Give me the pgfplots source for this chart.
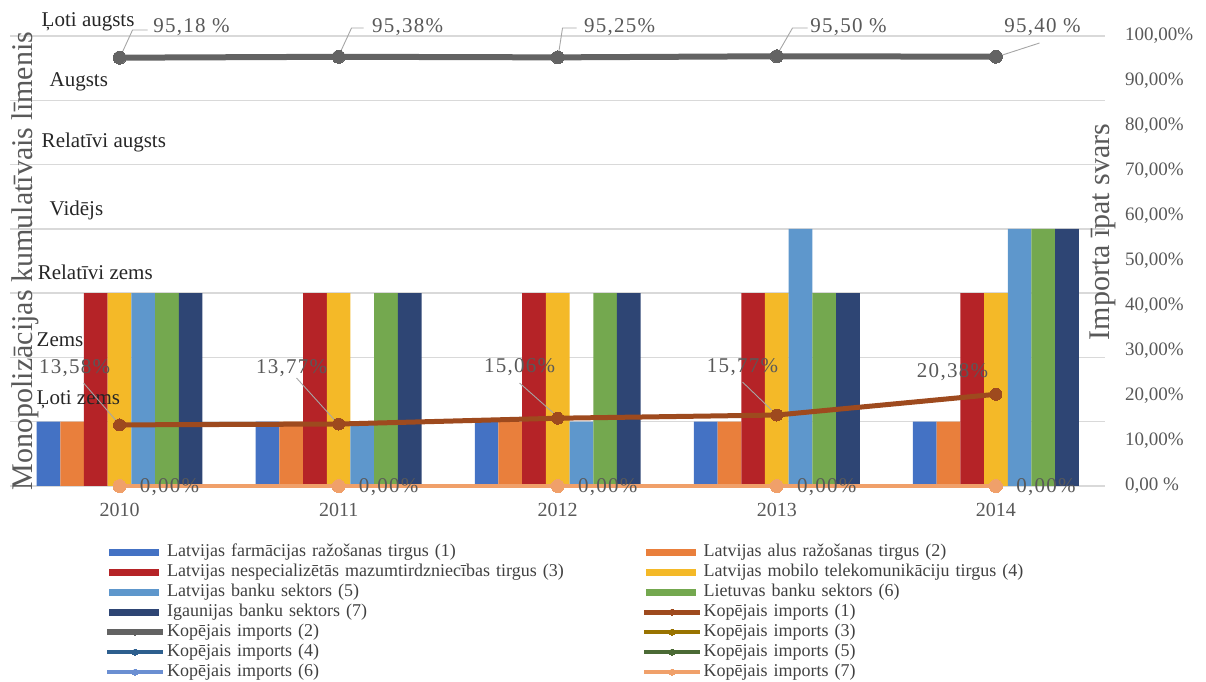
\documentclass[border=0pt]{standalone}
\usepackage{pgfplots}
\pgfplotsset{compat=1.18}
\usepackage{fontspec}
\setmainfont{Liberation Serif}
\newfontfamily\lblfont[LetterSpace=6]{Liberation Serif}
\definecolor{c1}{HTML}{4472C4}
\definecolor{c2}{HTML}{E97F3C}
\definecolor{c3}{HTML}{B52327}
\definecolor{c4}{HTML}{F4B928}
\definecolor{c5}{HTML}{5E97CC}
\definecolor{c6}{HTML}{74A84F}
\definecolor{c7}{HTML}{2E4574}
\definecolor{l1}{HTML}{9E4A1E}
\definecolor{l2}{HTML}{636363}
\definecolor{l3}{HTML}{997300}
\definecolor{l4}{HTML}{2D5F8E}
\definecolor{l5}{HTML}{4B6A35}
\definecolor{l6}{HTML}{6B8FD2}
\definecolor{l7}{HTML}{F0A06A}
\definecolor{gridc}{HTML}{D9D9D9}
\definecolor{tickc}{HTML}{595959}
\definecolor{legc}{HTML}{404040}
\definecolor{darkt}{HTML}{262626}
\definecolor{leadc}{HTML}{A6A6A6}
\pgfplotsset{
  lineleg/.style={legend image code/.code={\path[draw=none,fill=none] (0bp,0bp) -- (54.5bp,0bp); \draw[mark repeat=2,mark phase=2,##1,mark size=3bp] plot coordinates {(0bp,0bp) (28bp,0bp) (56bp,0bp)};}},
  barleg/.style={legend image code/.code={\path[draw=none,fill=none] (0bp,0bp) -- (54.5bp,0bp); \fill[#1, draw=none] (2bp,-3.5bp) rectangle (52bp,3.5bp);}},
}
\begin{document}
\begin{tikzpicture}
\useasboundingbox (0,0) rectangle (1206bp,682bp);
% primary axis: bars
\begin{axis}[
  at={(10bp,196bp)}, anchor=south west, scale only axis,
  width=1095.5bp, height=450bp,
  xmin=-0.5, xmax=4.5, ymin=0, ymax=7,
  ybar=0pt, bar width=23.7bp,
  xtick={0,1,2,3,4}, xticklabels={2010,2011,2012,2013,2014},
  major tick length=0pt,
  ytick={0,1,...,7}, yticklabel=\empty,
  ymajorgrids, grid style={draw=gridc, line width=1.3bp},
  axis line style={draw=none},
  xticklabel style={font=\fontsize{20bp}{24bp}\selectfont, text=tickc, inner sep=0pt, yshift=-17bp},
  ylabel={Monopolizācijas kumulatīvais līmenis},
  ylabel style={at={(axis description cs:0.0137,0.5)}, anchor=center, font=\fontsize{30bp}{36bp}\selectfont, text=tickc},
  clip=false,
]
\addplot[fill=c1, draw=none] coordinates {(0,1) (1,1) (2,1) (3,1) (4,1)};
\addplot[fill=c2, draw=none] coordinates {(0,1) (1,1) (2,1) (3,1) (4,1)};
\addplot[fill=c3, draw=none] coordinates {(0,3) (1,3) (2,3) (3,3) (4,3)};
\addplot[fill=c4, draw=none] coordinates {(0,3) (1,3) (2,3) (3,3) (4,3)};
\addplot[fill=c5, draw=none] coordinates {(0,3) (1,1) (2,1) (3,4) (4,4)};
\addplot[fill=c6, draw=none] coordinates {(0,3) (1,3) (2,3) (3,3) (4,4)};
\addplot[fill=c7, draw=none] coordinates {(0,3) (1,3) (2,3) (3,3) (4,4)};
\begin{scope}[every node/.style={anchor=west, inner sep=0pt, font=\fontsize{21bp}{25bp}\selectfont, text=darkt}]
\node at (axis cs:-0.356,7.22) {Ļoti augsts};
\node at (axis cs:-0.320,6.28) {Augsts};
\node at (axis cs:-0.356,5.35) {Relatīvi augsts};
\node at (axis cs:-0.320,4.29) {Vidējs};
\node at (axis cs:-0.374,3.33) {Relatīvi zems};
\node at (axis cs:-0.379,2.27) {Zems};
\node at (axis cs:-0.379,1.34) {Ļoti zems};
\end{scope}
\end{axis}
% secondary axis: lines
\begin{axis}[
  at={(10bp,196bp)}, anchor=south west, scale only axis,
  width=1095.5bp, height=450bp,
  xmin=-0.5, xmax=4.5, ymin=0, ymax=100,
  axis x line=none, axis y line*=right, y axis line style={draw=none},
  major tick length=0pt,
  ytick={0,10,...,100},
  yticklabels={{0,00 \%},{10,00\%},{20,00\%},{30,00\%},{40,00\%},{50,00\%},{60,00\%},{70,00\%},{80,00\%},{90,00\%},{100,00\%}},
  yticklabel style={anchor=west, inner sep=0pt, xshift=19.5bp, font=\fontsize{19bp}{23bp}\selectfont, text=tickc},
  ylabel={Importa īpat svars},
  ylabel style={at={(axis description cs:0.9977,0.5645)}, anchor=center, font=\fontsize{30bp}{36bp}\selectfont, text=tickc},
  clip=false,
  legend columns=2,
  legend cell align=left,
  legend style={at={(axis description cs:0.0858,-0.1244)}, anchor=north west, draw=none, fill=none,
    column sep=0pt, row sep=0pt, inner sep=0pt,
    font=\fontsize{18bp}{20bp}\selectfont, text=legc,
    nodes={text width=473.5bp, inner sep=1bp, text height=13.5bp, text depth=4.5bp, align=left}},
]
\addlegendimage{barleg=c1}
\addlegendentry{Latvijas farmācijas ražošanas tirgus (1)}
\addlegendimage{barleg=c2}
\addlegendentry{Latvijas alus ražošanas tirgus (2)}
\addlegendimage{barleg=c3}
\addlegendentry{Latvijas nespecializētās mazumtirdzniecības tirgus (3)}
\addlegendimage{barleg=c4}
\addlegendentry{Latvijas mobilo telekomunikāciju tirgus (4)}
\addlegendimage{barleg=c5}
\addlegendentry{Latvijas banku sektors (5)}
\addlegendimage{barleg=c6}
\addlegendentry{Lietuvas banku sektors (6)}
\addlegendimage{barleg=c7}
\addlegendentry{Igaunijas banku sektors (7)}
\addplot[lineleg, l1, line width=5bp, mark=*, mark size=6bp, mark options={solid, fill=l1, line width=0pt}] coordinates {(0,13.58) (1,13.77) (2,15.06) (3,15.77) (4,20.38)};
\addlegendentry{Kopējais imports (1)}
\addplot[lineleg, l2, line width=6bp, mark=*, mark size=6.5bp, mark options={solid, fill=l2, line width=0pt}] coordinates {(0,95.18) (1,95.38) (2,95.25) (3,95.50) (4,95.40)};
\addlegendentry{Kopējais imports (2)}
\addplot[lineleg, l3, line width=4bp, mark=*, mark size=6bp, mark options={solid, fill=l3, line width=0pt}] coordinates {(0,0) (1,0) (2,0) (3,0) (4,0)};
\addlegendentry{Kopējais imports (3)}
\addplot[lineleg, l4, line width=4bp, mark=*, mark size=6bp, mark options={solid, fill=l4, line width=0pt}] coordinates {(0,0) (1,0) (2,0) (3,0) (4,0)};
\addlegendentry{Kopējais imports (4)}
\addplot[lineleg, l5, line width=4bp, mark=*, mark size=6bp, mark options={solid, fill=l5, line width=0pt}] coordinates {(0,0) (1,0) (2,0) (3,0) (4,0)};
\addlegendentry{Kopējais imports (5)}
\addplot[lineleg, l6, line width=4bp, mark=*, mark size=6bp, mark options={solid, fill=l6, line width=0pt}] coordinates {(0,0) (1,0) (2,0) (3,0) (4,0)};
\addlegendentry{Kopējais imports (6)}
\addplot[lineleg, l7, line width=4bp, mark=*, mark size=6.5bp, mark options={solid, fill=l7, line width=0pt}] coordinates {(0,0) (1,0) (2,0) (3,0) (4,0)};
\addlegendentry{Kopējais imports (7)}
% data labels
\begin{scope}[every node/.style={inner sep=0pt, font=\lblfont\fontsize{21bp}{25bp}\selectfont, text=tickc}]
\draw[leadc, line width=0.9bp] (axis cs:-0.1643,22.89) -- (axis cs:-0.0183,14.67);
\draw[leadc, line width=0.9bp] (axis cs:0.8078,24.0) -- (axis cs:0.9813,14.67);
\draw[leadc, line width=0.9bp] (axis cs:1.8257,22.89) -- (axis cs:1.9854,16.0);
\draw[leadc, line width=0.9bp] (axis cs:2.8434,23.11) -- (axis cs:2.9758,16.89);
\node at (axis cs:-0.2054,26.22) {13,58\%};
\node at (axis cs:0.785,26.22) {13,77\%};
\node at (axis cs:1.8257,26.44) {15,06\%};
\node at (axis cs:2.8434,26.44) {15,77\%};
\node at (axis cs:3.8019,25.33) {20,38\%};
\draw[leadc, line width=0.9bp] (axis cs:0.0091,96) -- (axis cs:0.0593,101.33) -- (axis cs:0.1278,101.33);
\draw[leadc, line width=0.9bp] (axis cs:1.0041,96) -- (axis cs:1.0589,101.78) -- (axis cs:1.1136,101.78);
\draw[leadc, line width=0.9bp] (axis cs:2.0036,96) -- (axis cs:2.0219,101.78) -- (axis cs:2.0858,101.78);
\draw[leadc, line width=0.9bp] (axis cs:3.0032,96) -- (axis cs:3.0717,101.78) -- (axis cs:3.1401,101.78);
\draw[leadc, line width=0.9bp] (axis cs:4.0164,95.56) -- (axis cs:4.1990,98.44);
\node at (axis cs:0.3286,102) {95,18 \%};
\node at (axis cs:1.3145,102) {95,38\%};
\node at (axis cs:2.2821,102) {95,25\%};
\node at (axis cs:3.3272,102) {95,50 \%};
\node at (axis cs:4.2127,102) {95,40 \%};
\node at (axis cs:0.2282,-0.3) {0,00\%};
\node at (axis cs:1.2282,-0.3) {0,00\%};
\node at (axis cs:2.2282,-0.3) {0,00\%};
\node at (axis cs:3.2282,-0.3) {0,00\%};
\node at (axis cs:4.2282,-0.3) {0,00\%};
\end{scope}
\end{axis}
\end{tikzpicture}
\end{document}
